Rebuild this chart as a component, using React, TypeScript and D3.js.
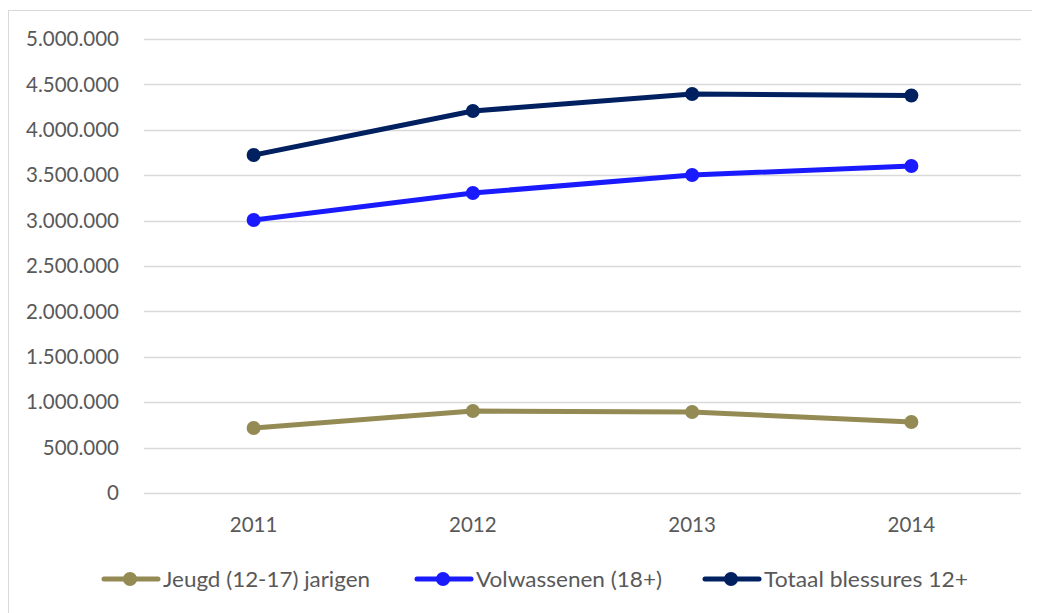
import { useEffect, useRef } from "react";
import * as d3 from "d3";

const years = ["2011", "2012", "2013", "2014"];
const jeugd = [716000, 903000, 892000, 782000];
const volwassenen = [3007000, 3304000, 3502000, 3601000];
const totaal = [3722000, 4207000, 4394000, 4378000];
const seriesNames = ["Jeugd (12-17) jarigen", "Volwassenen (18+)", "Totaal blessures 12+"];
const seriesColors = ["#948A54", "#1A1AFF", "#002060"];
const yTicks = [0, 500000, 1000000, 1500000, 2000000, 2500000, 3000000, 3500000, 4000000, 4500000, 5000000];

const App = () => {
    const ref = useRef<SVGSVGElement>(null);

    useEffect(() => {
        const width = 1032;
        const height = 605;
        const font = "Lato, 'Open Sans', sans-serif";
        const svg = d3.select(ref.current);
        svg.selectAll("*").remove();

        // chart border (shifted by the body margin)
        svg.append("rect")
            .attr("x", 0.5).attr("y", 2.5)
            .attr("width", width + 20).attr("height", height + 20)
            .attr("fill", "white").attr("stroke", "#d9d9d9");

        const x = d3.scaleBand().domain(years).range([136, 1013]);
        const y = d3.scaleLinear().domain([0, 5000000]).range([485, 31]);
        const fmt = (v: number) => d3.format(",")(v).replace(/,/g, ".");

        // gridlines
        svg.append("g")
            .selectAll("line")
            .data(yTicks)
            .join("line")
            .attr("x1", 136).attr("x2", 1013)
            .attr("y1", d => Math.round(y(d)) + 0.5)
            .attr("y2", d => Math.round(y(d)) + 0.5)
            .attr("stroke", "#d9d9d9").attr("stroke-width", 1.3);

        svg.append("g")
            .selectAll("text")
            .data(yTicks)
            .join("text")
            .attr("x", 111)
            .attr("y", d => y(d))
            .attr("dy", "0.35em")
            .attr("text-anchor", "end")
            .attr("fill", "#595959")
            .style("font-family", font)
            .style("font-size", "20.5px")
            .text(d => fmt(d));

        svg.append("g")
            .selectAll("text")
            .data(years)
            .join("text")
            .attr("x", d => x(d)! + x.bandwidth() / 2)
            .attr("y", 517)
            .attr("dy", "0.35em")
            .attr("text-anchor", "middle")
            .attr("fill", "#595959")
            .style("font-family", font)
            .style("font-size", "20.5px")
            .text(d => d);

        const allSeries = [jeugd, volwassenen, totaal];
        const cx = (i: number) => x(years[i])! + x.bandwidth() / 2;
        const line = d3.line<number>()
            .x((_, i) => cx(i))
            .y(d => y(d));

        allSeries.forEach((vals, s) => {
            const g = svg.append("g");
            g.append("path")
                .datum(vals)
                .attr("fill", "none")
                .attr("stroke", seriesColors[s])
                .attr("stroke-width", 5)
                .attr("stroke-linejoin", "round")
                .attr("d", line);
            g.selectAll("circle")
                .data(vals)
                .join("circle")
                .attr("cx", (_, i) => cx(i))
                .attr("cy", d => y(d))
                .attr("r", 7)
                .attr("fill", seriesColors[s]);
        });

        // legend
        const legendX = [94, 407, 695];
        const textW = [207, 186, 204];
        const ly = 571;
        seriesNames.forEach((name, s) => {
            const g = svg.append("g").attr("transform", `translate(${legendX[s]},${ly})`);
            g.append("line")
                .attr("x1", 2).attr("x2", 56)
                .attr("stroke", seriesColors[s])
                .attr("stroke-width", 5)
                .attr("stroke-linecap", "round");
            g.append("circle")
                .attr("cx", 28).attr("r", 7)
                .attr("fill", seriesColors[s]);
            g.append("text")
                .attr("x", 61)
                .attr("dy", "0.35em")
                .attr("fill", "#595959")
                .attr("textLength", textW[s])
                .attr("lengthAdjust", "spacingAndGlyphs")
                .style("font-family", font)
                .style("font-size", "21.5px")
                .text(name);
        });
    }, []);

    return <svg ref={ref} width={1032} height={605} style={{ display: "block", overflow: "hidden" }} />;
};

export default App;
